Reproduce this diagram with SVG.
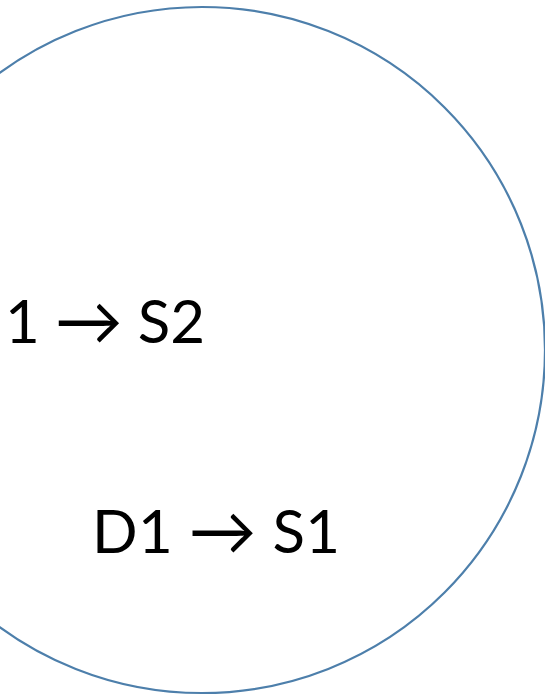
<svg xmlns="http://www.w3.org/2000/svg" width="545" height="697" viewBox="0 0 545 697">
<style>
.lbl{font-family:Lato,"Open Sans","Liberation Sans",sans-serif;font-size:60px;fill:#000}
.arr{font-size:68px}
.ring{fill:none;stroke:#4d7fab;stroke-width:2.2}
</style>
<rect width="545" height="697" fill="#fff"/>
<g id="circle"><circle class="ring" cx="202" cy="350" r="343"/></g>
<g id="label-s2"><text class="lbl" x="5" y="343" textLength="200" lengthAdjust="spacing">1 <tspan class="arr" dy="2">→</tspan><tspan dy="-2"> S2</tspan></text></g>
<g id="label-s1"><text class="lbl" x="92" y="553" textLength="248" lengthAdjust="spacing">D1 <tspan class="arr" dy="2">→</tspan><tspan dy="-2"> S1</tspan></text></g>
</svg>
